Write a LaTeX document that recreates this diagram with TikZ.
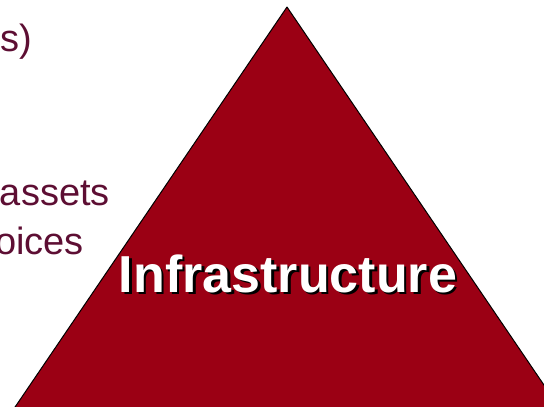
\documentclass[tikz,border=0pt]{standalone}
\usepackage{fontspec}
\setmainfont{Liberation Sans}
\definecolor{pyramidred}{RGB}{155,0,20}
\definecolor{notetext}{RGB}{93,14,51}

\begin{document}
\begin{tikzpicture}[x=1pt,y=-1pt,layer/.style={fill=pyramidred,draw=black,line width=1pt,line join=round},note/.style={text=notetext,inner sep=0pt,font=\fontsize{38}{44}\selectfont},label/.style={inner sep=0pt,font=\fontsize{52}{60}\selectfont\bfseries}]
\useasboundingbox (0,0) rectangle (544,407);
\clip (0,0) rectangle (544,407);
\coordinate (top) at (287,7);
\coordinate (left) at (-6,438);
\coordinate (right) at (580,438);
\draw[layer] (top) -- (left) -- (right) -- cycle;
\node[note,anchor=base east] (paren) at (32,51) {s)};
\node[note,anchor=base east] (assets) at (110,205) {assets};
\node[note,anchor=base east] (choices) at (84,254) {oices};
\node[label,text=black,anchor=base] (infra shadow) at (290.5,294.5) {Infrastructure};
\node[label,text=white,anchor=base] (infra) at (288,292) {Infrastructure};
\end{tikzpicture}
\end{document}
